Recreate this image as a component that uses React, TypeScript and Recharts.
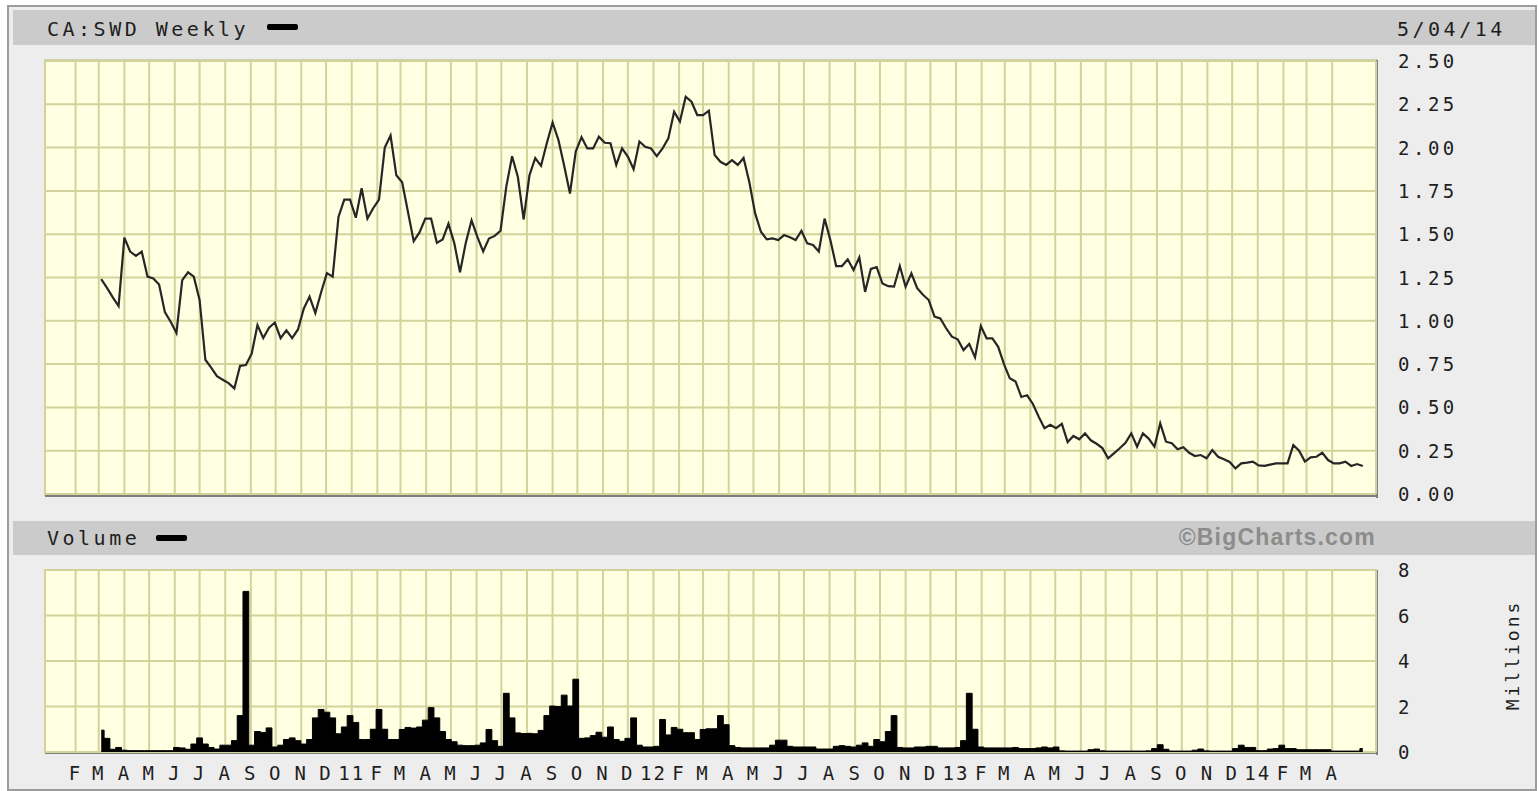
import { LineChart, Line, AreaChart, Area, XAxis, YAxis, CartesianGrid } from 'recharts';

// weekly closes, CA:SWD, first week Mar 4 2010
const PRICE = [
  1.24, 1.19, 1.135, 1.085, 1.48, 1.40, 1.375, 1.40, 1.255, 1.245,
  1.21, 1.05, 0.995, 0.93, 1.235, 1.28, 1.255, 1.12, 0.775, 0.73,
  0.68, 0.66, 0.64, 0.61, 0.74, 0.745, 0.81, 0.975, 0.90, 0.96,
  0.99, 0.90, 0.945, 0.90, 0.95, 1.07, 1.14, 1.045, 1.165, 1.275,
  1.255, 1.60, 1.70, 1.70, 1.595, 1.765, 1.59, 1.65, 1.70, 2.00,
  2.07, 1.84, 1.80, 1.63, 1.46, 1.51, 1.59, 1.59, 1.45, 1.47,
  1.56, 1.45, 1.28, 1.45, 1.58, 1.485, 1.40, 1.475, 1.49, 1.52,
  1.775, 1.95, 1.83, 1.585, 1.84, 1.94, 1.895, 2.025, 2.145, 2.045,
  1.895, 1.735, 1.977, 2.06, 1.995, 1.995, 2.063, 2.028, 2.025, 1.90,
  1.995, 1.948, 1.875, 2.035, 2.005, 1.995, 1.95, 1.995, 2.053, 2.207,
  2.15, 2.294, 2.265, 2.188, 2.188, 2.213, 1.957, 1.918, 1.90, 1.928,
  1.90, 1.94, 1.80, 1.62, 1.514, 1.47, 1.476, 1.466, 1.495, 1.482,
  1.466, 1.52, 1.447, 1.438, 1.40, 1.59, 1.466, 1.316, 1.316, 1.355,
  1.293, 1.366, 1.167, 1.30, 1.31, 1.215, 1.20, 1.197, 1.316, 1.197,
  1.274, 1.188, 1.15, 1.12, 1.024, 1.014, 0.957, 0.908, 0.893, 0.831,
  0.866, 0.789, 0.97, 0.899, 0.899, 0.85, 0.75, 0.668, 0.65, 0.56,
  0.57, 0.52, 0.446, 0.38, 0.40, 0.38, 0.405, 0.30, 0.335, 0.316,
  0.35, 0.31, 0.29, 0.265, 0.206, 0.235, 0.264, 0.296, 0.35, 0.273,
  0.35, 0.32, 0.273, 0.408, 0.302, 0.293, 0.258, 0.27, 0.238, 0.219,
  0.225, 0.206, 0.254, 0.215, 0.20, 0.185, 0.148, 0.177, 0.181, 0.187,
  0.165, 0.162, 0.17, 0.177, 0.177, 0.177, 0.283, 0.25, 0.187, 0.212,
  0.215, 0.238, 0.196, 0.177, 0.177, 0.187, 0.162, 0.173, 0.162,
];

// weekly volume, millions of shares
const VOLUME = [
  0.96, 0.6, 0.12, 0.2, 0.08, 0.06, 0.06, 0.06, 0.06, 0.06,
  0.06, 0.06, 0.06, 0.2, 0.18, 0.12, 0.35, 0.62, 0.35, 0.2,
  0.13, 0.3, 0.3, 0.5, 1.6, 7.06, 0.3, 0.9, 0.86, 1.06,
  0.22, 0.3, 0.55, 0.62, 0.5, 0.35, 0.55, 1.5, 1.87, 1.75,
  1.5, 0.8, 1.1, 1.6, 1.3, 0.55, 0.55, 1.0, 1.87, 1.0,
  0.55, 0.55, 0.99, 1.08, 1.05, 1.1, 1.4, 1.95, 1.5, 0.9,
  0.55, 0.45, 0.3, 0.28, 0.28, 0.3, 0.4, 0.99, 0.5, 0.25,
  2.58, 1.5, 0.84, 0.81, 0.82, 0.8, 0.95, 1.6, 2.02, 2.0,
  2.5, 2.02, 3.2, 0.6, 0.62, 0.72, 0.87, 0.65, 1.1, 0.55,
  0.47, 0.6, 1.5, 0.3, 0.22, 0.22, 0.25, 1.43, 0.75, 1.08,
  1.0, 0.85, 0.85, 0.55, 0.99, 1.02, 1.02, 1.6, 1.2, 0.28,
  0.2, 0.18, 0.18, 0.18, 0.18, 0.18, 0.3, 0.52, 0.52, 0.25,
  0.22, 0.22, 0.22, 0.22, 0.13, 0.13, 0.13, 0.25, 0.28, 0.25,
  0.22, 0.3, 0.4, 0.25, 0.55, 0.45, 0.9, 1.6, 0.2, 0.18,
  0.18, 0.22, 0.22, 0.25, 0.25, 0.18, 0.18, 0.18, 0.2, 0.5,
  2.58, 1.0, 0.22, 0.18, 0.18, 0.18, 0.18, 0.18, 0.2, 0.15,
  0.15, 0.15, 0.18, 0.22, 0.18, 0.22, 0.05, 0.04, 0.04, 0.04,
  0.04, 0.1, 0.13, 0.05, 0.04, 0.04, 0.04, 0.04, 0.04, 0.04,
  0.04, 0.05, 0.15, 0.32, 0.12, 0.04, 0.04, 0.04, 0.04, 0.08,
  0.13, 0.05, 0.04, 0.04, 0.04, 0.04, 0.15, 0.3, 0.2, 0.2,
  0.06, 0.06, 0.13, 0.15, 0.3, 0.15, 0.15, 0.1, 0.1, 0.1,
  0.1, 0.1, 0.1, 0.04, 0.04, 0.04, 0.04, 0.04, 0.15,
];

const PRICE_TICKS = [0, 0.25, 0.5, 0.75, 1, 1.25, 1.5, 1.75, 2, 2.25, 2.5];
const VOLUME_TICKS = [0, 2, 4, 6, 8];
const MONTH_LETTERS = ['J', 'F', 'M', 'A', 'M', 'J', 'J', 'A', 'S', 'O', 'N', 'D'];

const DAY = 86400000;
const FIRST_WEEK = Date.UTC(2010, 2, 4);
const X_START = Date.UTC(2009, 11, 26);
const X_END = Date.UTC(2014, 4, 24);

// month gridlines, Feb 2010 .. Apr 2014
const MONTH_TICKS: number[] = [];
for (let y = 2010; y <= 2014; y++) {
  for (let m = 0; m < 12; m++) {
    const t = Date.UTC(y, m, 1);
    if (t >= Date.UTC(2010, 1, 1) && t <= Date.UTC(2014, 3, 1)) MONTH_TICKS.push(t);
  }
}

const rows = PRICE.map((p, i) => ({ t: FIRST_WEEK + i * 7 * DAY, price: p, vol: VOLUME[i] }));

const FONT = '"DejaVu Sans Mono", "Liberation Mono", monospace';
const GRID = '#d3d29a';
const PLOT_BG = '#ffffe2';
const INK = '#1e1e1e';

const monthLabel = (t: number) => {
  const d = new Date(t);
  const m = d.getUTCMonth();
  return m === 0 ? String(d.getUTCFullYear() % 100).padStart(2, '0') : MONTH_LETTERS[m];
};

const RightTick = ({ x, y, payload, digits }: any) => (
  <text x={x} y={y} dominantBaseline="central" fontFamily={FONT} fontSize={19} letterSpacing={3.5} fill={INK}>
    {digits ? payload.value.toFixed(digits) : payload.value}
  </text>
);

const MonthTick = ({ x, y, payload }: any) => (
  <text x={x} y={y + 7} textAnchor="middle" dominantBaseline="central" fontFamily={FONT} fontSize={19} letterSpacing={2} fill={INK}>
    {monthLabel(payload.value)}
  </text>
);

// price panel keeps its month ticks for the grid but shows no labels
const NoTick = () => <g />;

export default function App() {
  return (
    <div style={{ position: 'absolute', left: 0, top: 0, width: 1539, height: 791, background: '#fff', overflow: 'hidden' }}>
      {/* frame, header bars and text */}
      <svg width={1539} height={791} style={{ position: 'absolute', left: 0, top: 0 }}>
        <rect x={8} y={6} width={1528} height={784} fill="#ededed" stroke="#9c9c9c" strokeWidth={2} />
        <rect x={13} y={10} width={1522} height={35} fill="#cbcbcb" />
        <rect x={13} y={521} width={1522} height={34} fill="#cbcbcb" />
        <text x={47} y={29} dominantBaseline="central" fontFamily={FONT} fontSize={20} letterSpacing={3.5} fill={INK}>CA:SWD Weekly</text>
        <rect x={267} y={24} width={31} height={6} rx={2} fill="#000" />
        <text x={1397} y={29} dominantBaseline="central" fontFamily={FONT} fontSize={20} letterSpacing={3.5} fill={INK}>5/04/14</text>
        <text x={47} y={538} dominantBaseline="central" fontFamily={FONT} fontSize={20} letterSpacing={3.5} fill={INK}>Volume</text>
        <rect x={156} y={535} width={31} height={6} rx={2} fill="#000" />
        <text x={1376} y={537} textAnchor="end" dominantBaseline="central" fontFamily='"Liberation Sans", Arial, sans-serif' fontWeight="bold" fontSize={23} letterSpacing={1.2} fill="#8c8c8c">©BigCharts.com</text>
        <text x={1512} y={655} textAnchor="middle" dominantBaseline="central" fontFamily={FONT} fontSize={18} letterSpacing={3} fill={INK} transform="rotate(-90 1512 655)">Millions</text>
        {/* plot outlines: light top/left, dark shadow right/bottom */}
        <rect x={44} y={59} width={1333} height={1} fill="#cfcfa8" />
        <rect x={44} y={59} width={1} height={437} fill="#cfcfa8" />
        <rect x={1376} y={60} width={2} height={438} fill="#7f7f7f" />
        <rect x={45} y={495} width={1333} height={2} fill="#7f7f7f" />
        <rect x={44} y={569} width={1333} height={1} fill="#cfcfa8" />
        <rect x={44} y={569} width={1} height={184} fill="#cfcfa8" />
        <rect x={1376} y={570} width={2} height={185} fill="#7f7f7f" />
        <rect x={45} y={752} width={1333} height={2} fill="#7f7f7f" />
      </svg>

      {/* price panel */}
      <div style={{ position: 'absolute', left: 0, top: 51 }}>
        <LineChart width={1539} height={455} data={rows} margin={{ top: 10, right: 23, bottom: 10, left: 45 }}>
          <CartesianGrid fill={PLOT_BG} fillOpacity={1} stroke={GRID} strokeWidth={2} />
          <XAxis type="number" dataKey="t" domain={[X_START, X_END]} ticks={MONTH_TICKS} interval={0} allowDataOverflow
            height={2} tick={<NoTick />} axisLine={false} tickLine={false} />
          <YAxis orientation="right" width={140} domain={[0, 2.5]} ticks={PRICE_TICKS} interval={0}
            axisLine={false} tickLine={false} tickSize={6} tickMargin={16} tick={<RightTick digits={2} />} />
          <Line type="linear" dataKey="price" stroke="#262626" strokeWidth={2.2} dot={false} isAnimationActive={false} />
        </LineChart>
      </div>

      {/* volume panel */}
      <div style={{ position: 'absolute', left: 0, top: 560 }}>
        <AreaChart width={1539} height={230} data={rows} margin={{ top: 10, right: 23, bottom: 0, left: 45 }}>
          <CartesianGrid fill={PLOT_BG} fillOpacity={1} stroke={GRID} strokeWidth={2} />
          <XAxis type="number" dataKey="t" domain={[X_START, X_END]} ticks={MONTH_TICKS} interval={0} allowDataOverflow
            height={38} axisLine={false} tickLine={false} tickSize={6} tickMargin={8} tick={<MonthTick />} />
          <YAxis orientation="right" width={140} domain={[0, 8]} ticks={VOLUME_TICKS} interval={0}
            axisLine={false} tickLine={false} tickSize={6} tickMargin={16} tick={<RightTick />} />
          <Area type="step" dataKey="vol" stroke="#000" strokeWidth={1} fill="#000" fillOpacity={1} isAnimationActive={false} />
        </AreaChart>
      </div>
    </div>
  );
}
